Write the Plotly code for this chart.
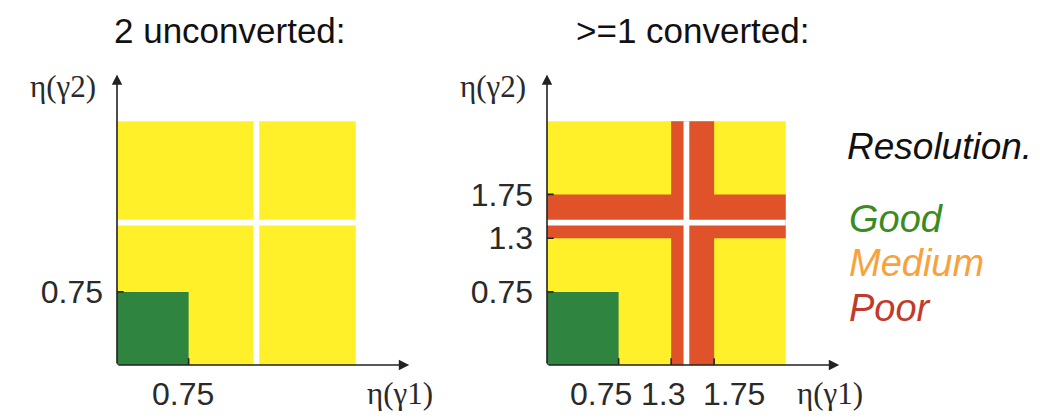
import plotly.graph_objects as go

W, H = 1040, 420

# ---- data (eta values) ----
panel_titles = ["2 unconverted:", ">=1 converted:"]
eta_max = 2.5                 # extent of the yellow (medium) region
good_edge = 0.75              # green (good) square edge
crack = [1.43, 1.49]          # white barrel/endcap gap
poor_band = [1.3, 1.75]       # red (poor) band in converted panel
ticks_left = [0.75]
ticks_right = [0.75, 1.3, 1.75]
tick_text_left = ["0.75"]
tick_text_right = ["0.75", "1.3", "1.75"]
legend_title = "Resolution."
legend_labels = ["Good", "Medium", "Poor"]
legend_colors = ["#3A8C22", "#F9A23C", "#C23A2A"]

YELLOW = "#FFF02A"
GREEN = "#2F8440"
RED = "#E0522A"
AX = "#222222"
TXT = "#2a2a2a"

# ---- layout geometry (pixels) ----
PX_X = 95.5
PX_Y = 97.5
XR = [0, 3.3]
YR = [0, 3.2]
x0_left, x0_right = 117, 547
y_bottom = 365
# horizontal nudges of x tick labels (pixels), as drawn in the original
xlabel_shift_left = [-6]
xlabel_shift_right = [-18, -8, 20]

def xdom(x0):
    return [x0 / W, (x0 + (XR[1] - XR[0]) * PX_X) / W]

ydom = [(H - y_bottom) / H, (H - (y_bottom - (YR[1] - YR[0]) * PX_Y)) / H]

fig = go.Figure()

shapes = []
annotations = []

panels = [
    dict(xa="x", ya="y", x0=x0_left, ticks=ticks_left, tt=tick_text_left,
         shifts=xlabel_shift_left, converted=False),
    dict(xa="x2", ya="y2", x0=x0_right, ticks=ticks_right, tt=tick_text_right,
         shifts=xlabel_shift_right, converted=True),
]

for i, p in enumerate(panels):
    xr, yr = p["xa"], p["ya"]
    def rect(a0, a1, b0, b1, color):
        shapes.append(dict(type="rect", xref=xr, yref=yr, x0=a0, x1=a1, y0=b0, y1=b1,
                           fillcolor=color, line=dict(width=0), layer="below"))
    # medium region
    rect(0, eta_max, 0, eta_max, YELLOW)
    if p["converted"]:
        rect(poor_band[0], poor_band[1], 0, eta_max, RED)
        rect(0, eta_max, poor_band[0], poor_band[1], RED)
    # cracks
    rect(crack[0], crack[1], 0, eta_max, "white")
    rect(0, eta_max, crack[0], crack[1], "white")
    # good region
    rect(0, good_edge, 0, good_edge, GREEN)
    # axis arrows
    annotations.append(dict(xref=xr, yref=yr, axref=xr, ayref=yr, x=3.06, y=0, ax=0, ay=0,
                            showarrow=True, arrowhead=2, arrowsize=1.3, arrowwidth=1.6,
                            arrowcolor=AX, text=""))
    annotations.append(dict(xref=xr, yref=yr, axref=xr, ayref=yr, x=0, y=2.98, ax=0, ay=0,
                            showarrow=True, arrowhead=2, arrowsize=1.3, arrowwidth=1.6,
                            arrowcolor=AX, text=""))
    # crossing tick marks + x tick labels
    for t, lab, sh in zip(p["ticks"], p["tt"], p["shifts"]):
        shapes.append(dict(type="line", xref=xr, yref=yr, x0=t, x1=t, y0=-0.08, y1=0.07,
                           line=dict(color=AX, width=1.6)))
        shapes.append(dict(type="line", xref=xr, yref=yr, x0=-0.05, x1=0.07, y0=t, y1=t,
                           line=dict(color=AX, width=1.6)))
        annotations.append(dict(xref=xr, yref=yr, x=t, y=0, text=lab, showarrow=False,
                                xanchor="center", yanchor="middle", xshift=sh, yshift=-29,
                                font=dict(family="Liberation Sans", size=32, color=TXT)))
    # axis titles
    annotations.append(dict(xref="paper", yref="paper", x=(p["x0"] + 283) / W, y=(H - 393) / H,
                            text="η(γ1)", showarrow=False, xanchor="center", yanchor="middle",
                            font=dict(family="Liberation Serif", size=31, color=TXT)))
    annotations.append(dict(xref="paper", yref="paper", x=(p["x0"] - 54) / W, y=(H - 86) / H,
                            text="η(γ2)", showarrow=False, xanchor="center", yanchor="middle",
                            font=dict(family="Liberation Serif", size=31, color=TXT)))
    # panel title
    annotations.append(dict(xref="paper", yref="paper", x=(p["x0"] + 113 + (33 if i else 0)) / W,
                            y=(H - 31) / H, text=panel_titles[i], showarrow=False,
                            xanchor="center", yanchor="middle",
                            font=dict(family="Liberation Sans", size=35, color="#111111")))
    # invisible trace to anchor the subplot
    fig.add_trace(go.Scatter(x=[0], y=[0], xaxis=xr, yaxis=yr, mode="markers",
                             marker=dict(opacity=0), hoverinfo="skip", showlegend=False))

# legend text block
annotations.append(dict(xref="paper", yref="paper", x=845 / W, y=(H - 146) / H,
                        text="<i>" + legend_title + "</i>", showarrow=False,
                        xanchor="left", yanchor="middle",
                        font=dict(family="Liberation Sans", size=37, color="#111111")))
for lab, col, yy in zip(legend_labels, legend_colors, [219, 263, 308]):
    annotations.append(dict(xref="paper", yref="paper", x=847 / W, y=(H - yy) / H,
                            text="<i>" + lab + "</i>", showarrow=False,
                            xanchor="left", yanchor="middle",
                            font=dict(family="Liberation Sans", size=38, color=col)))

axis_common = dict(showgrid=False, zeroline=False, showline=False, ticks="", automargin=False,
                   tickfont=dict(family="Liberation Sans", size=32, color=TXT))

fig.update_layout(
    width=W, height=H, margin=dict(l=0, r=0, t=0, b=0, autoexpand=False),
    paper_bgcolor="white", plot_bgcolor="rgba(0,0,0,0)",
    shapes=shapes, annotations=annotations,
    xaxis=dict(domain=xdom(x0_left), range=XR, anchor="y", showticklabels=False, **axis_common),
    yaxis=dict(domain=ydom, range=YR, tickvals=ticks_left, ticktext=tick_text_left,
               anchor="x", ticklabelstandoff=13, **axis_common),
    xaxis2=dict(domain=xdom(x0_right), range=XR, anchor="y2", showticklabels=False, **axis_common),
    yaxis2=dict(domain=ydom, range=YR, tickvals=ticks_right, ticktext=tick_text_right,
                anchor="x2", ticklabelstandoff=13, **axis_common),
)

fig.write_html("out.html")
